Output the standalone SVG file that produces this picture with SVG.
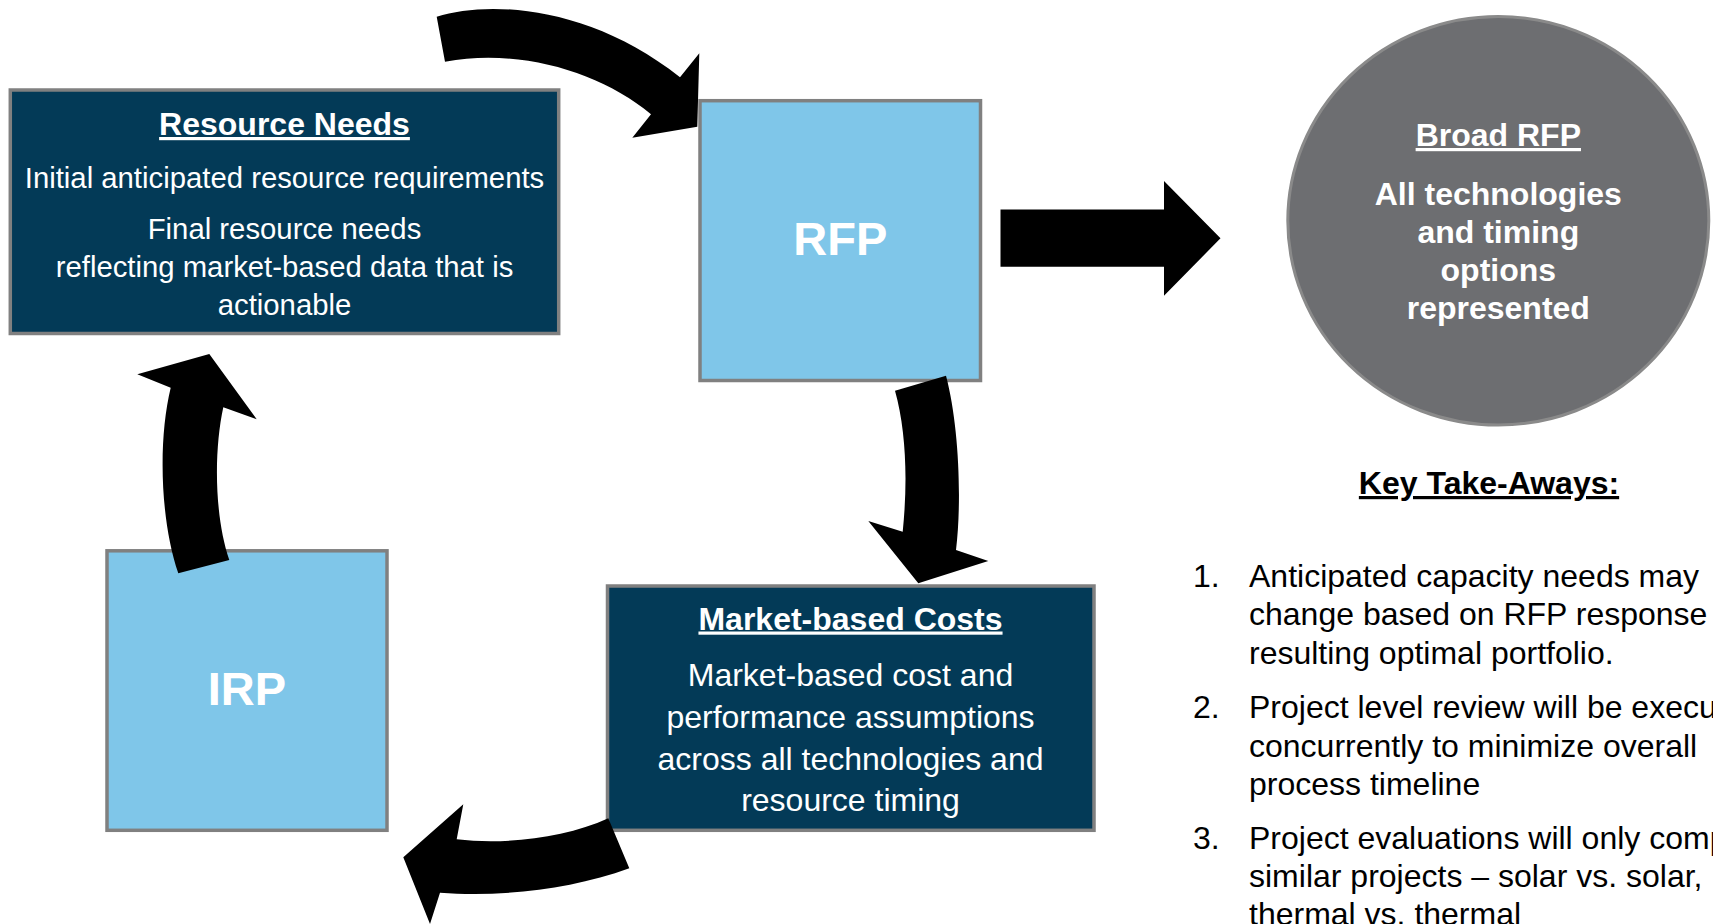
<svg xmlns="http://www.w3.org/2000/svg" width="1713" height="924" viewBox="0 0 1713 924">
  <style>
    .dark { fill: #033a57; stroke: #808080; stroke-width: 3.5; }
    .light { fill: #7fc6e9; stroke: #808080; stroke-width: 3.5; }
    .txt { font-family: "Liberation Sans", Arial, sans-serif; fill: #ffffff; text-anchor: middle; }
    .head { font-weight: bold; text-decoration: underline; text-underline-offset: 5px; text-decoration-thickness: 2.5px; }
    .big { font-weight: bold; font-size: 47px; }
    .bold { font-weight: bold; }
    .list { font-family: "Liberation Sans", Arial, sans-serif; font-size: 32px; fill: #000000; }
    .arrow { fill: #000000; }
  </style>

  <rect width="1713" height="924" fill="#ffffff"/>

  <!-- Resource Needs -->
  <g id="resource-needs">
    <rect class="dark" x="10.3" y="90" width="548.4" height="243.5"/>
    <text class="txt head" x="284.5" y="135" font-size="32">Resource Needs</text>
    <text class="txt" x="284.5" y="187.5" font-size="29.3">Initial anticipated resource requirements</text>
    <text class="txt" x="284.5" y="238.5" font-size="29.3">Final resource needs</text>
    <text class="txt" x="284.5" y="276.5" font-size="29.3">reflecting market-based data that is</text>
    <text class="txt" x="284.5" y="315" font-size="29.3">actionable</text>
  </g>

  <!-- RFP -->
  <g id="rfp">
    <rect class="light" x="700" y="100.7" width="280.5" height="279.8"/>
    <text class="txt big" x="840.3" y="255">RFP</text>
  </g>

  <!-- Broad RFP -->
  <g id="broad-rfp">
    <ellipse cx="1498.3" cy="220.8" rx="210.5" ry="204.3" fill="#6d6e71" stroke="#8a8a8a" stroke-width="3"/>
    <text class="txt head" x="1498.3" y="146" font-size="32">Broad RFP</text>
    <text class="txt bold" x="1498.3" y="205" font-size="32">All technologies</text>
    <text class="txt bold" x="1498.3" y="242.5" font-size="32">and timing</text>
    <text class="txt bold" x="1498.3" y="280.5" font-size="32">options</text>
    <text class="txt bold" x="1498.3" y="319" font-size="32">represented</text>
  </g>

  <!-- Market-based Costs -->
  <g id="market-based-costs">
    <rect class="dark" x="607.5" y="586" width="486.5" height="244.3"/>
    <text class="txt head" x="850.5" y="629.5" font-size="32">Market-based Costs</text>
    <text class="txt" x="850.5" y="686" font-size="32">Market-based cost and</text>
    <text class="txt" x="850.5" y="727.5" font-size="32">performance assumptions</text>
    <text class="txt" x="850.5" y="769.5" font-size="32">across all technologies and</text>
    <text class="txt" x="850.5" y="810.5" font-size="32">resource timing</text>
  </g>

  <!-- IRP -->
  <g id="irp">
    <rect class="light" x="107" y="550.8" width="280" height="279.5"/>
    <text class="txt big" x="247" y="704.5">IRP</text>
  </g>

  <!-- Key take-aways list -->
  <g id="key-take-aways">
    <text class="list head" x="1489" y="494" font-size="31.5" text-anchor="middle">Key Take-Aways:</text>
    <text class="list" x="1193" y="587">1.</text>
    <text class="list" x="1249" y="587">Anticipated capacity needs may</text>
    <text class="list" x="1249" y="625">change based on RFP response</text>
    <text class="list" x="1249" y="663.5">resulting optimal portfolio.</text>
    <text class="list" x="1193" y="718">2.</text>
    <text class="list" x="1249" y="718">Project level review will be execu</text>
    <text class="list" x="1249" y="756.5">concurrently to minimize overall</text>
    <text class="list" x="1249" y="795">process timeline</text>
    <text class="list" x="1193" y="849">3.</text>
    <text class="list" x="1249" y="849">Project evaluations will only comp</text>
    <text class="list" x="1249" y="887">similar projects – solar vs. solar,</text>
    <text class="list" x="1249" y="925">thermal vs. thermal</text>
  </g>

  <!-- Curved and straight block arrows -->
  <g id="connectors">
    <!-- Resource Needs to RFP -->
    <path class="arrow" d="M436.7,16.7 C490,0 590,6 680,77.3 L699.3,53.3 L697.3,126.7 L632.3,137.7 L651,114.3 C600,72 520,48 445,61.7 Z"/>
    <!-- RFP to Market-based Costs -->
    <path class="arrow" d="M895,390.7 L946,375.7 C959,425 962,500 956,550 L988.3,561 L918.3,583.3 L868.3,521 L902.7,531.7 C908,480 906,430 895,390.7 Z"/>
    <!-- Market-based Costs to IRP -->
    <path class="arrow" d="M608.3,818.3 C565,838 505,845 456.7,839.3 L463.3,804.3 L403.3,857.3 L430,924 L440,892.7 C500,897 570,890 629.3,868.3 Z"/>
    <!-- IRP to Resource Needs -->
    <path class="arrow" d="M178.3,573.3 C160,520 158,440 170.7,387.7 L137.3,374.3 L209.3,354 L256.7,419.3 L223.3,407.3 C214,450 214,515 229.3,560 Z"/>
    <!-- RFP to Broad RFP -->
    <polygon class="arrow" points="1000.5,209.5 1164,209.5 1164,181 1220.5,238.3 1164,295.7 1164,266.7 1000.5,266.7"/>
  </g>
</svg>
